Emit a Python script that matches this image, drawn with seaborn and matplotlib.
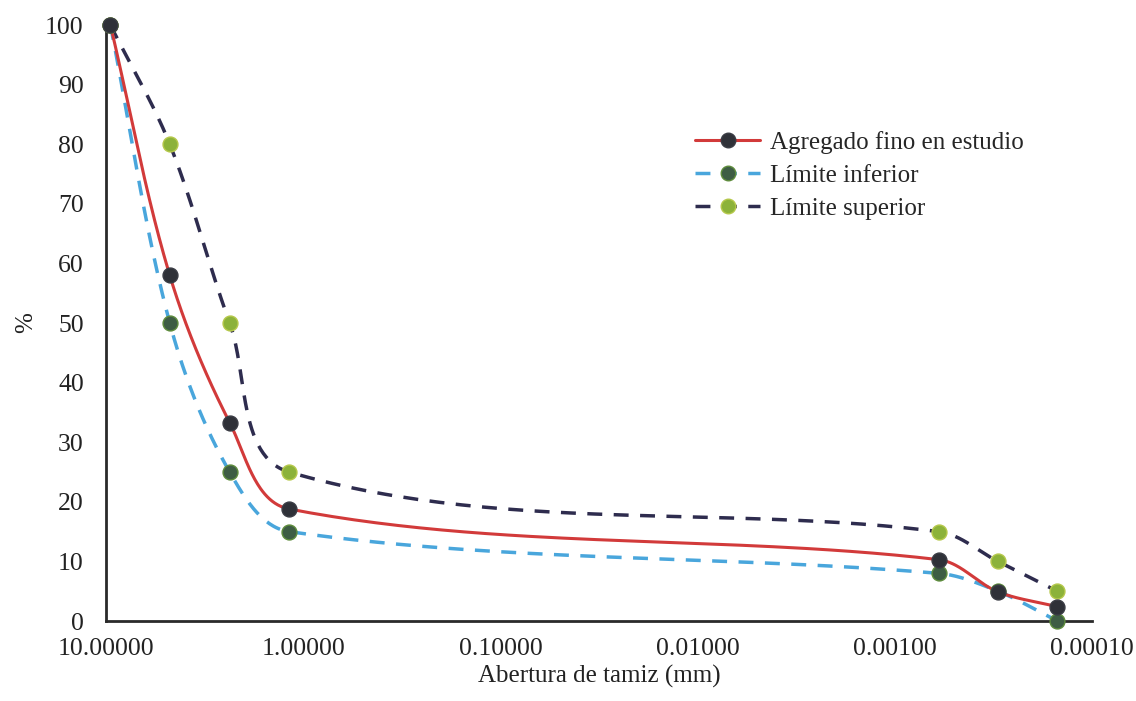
import numpy as np
import matplotlib
matplotlib.use("Agg")
import matplotlib.pyplot as plt
from matplotlib.lines import Line2D
import seaborn as sns

# ---- data ----
abertura = [9.5, 4.75, 2.36, 1.18, 0.0006, 0.0003, 0.00015]
agregado = [100, 58, 33.3, 18.8, 10.3, 4.9, 2.4]
lim_inf = [100, 50, 25, 15, 8, 5, 0]
lim_sup = [100, 80, 50, 25, 15, 10, 5]
xticks = [10, 1, 0.1, 0.01, 0.001, 0.0001]
xtick_labels = ["10.00000", "1.00000", "0.10000", "0.01000", "0.00100", "0.00010"]
yticks = list(range(0, 101, 10))

sns.set_theme(style="white")
plt.rcParams['font.family'] = ['Liberation Serif', 'DejaVu Serif']

fig = plt.figure(figsize=(11.36, 7.01), dpi=100)
ax = fig.add_axes([106/1136, 80/701, (1092-106)/1136, (621-25)/701])

PXD, PXY = 197.6, 5.96  # pixels per decade / per y unit (for smoothing shape)


def smooth(xs, ys, n=60):
    # Excel-like smoothing: Bezier segments, tangent parallel to neighbours,
    # handle length scaled to the segment length (in screen-like coordinates)
    P = np.column_stack([-np.log10(np.asarray(xs, float)) * PXD,
                         np.asarray(ys, float) * PXY])
    N = len(P)
    T = np.zeros_like(P)
    for i in range(N):
        a = P[max(i - 1, 0)]
        b = P[min(i + 1, N - 1)]
        d = b - a
        T[i] = d / np.linalg.norm(d)
    out = []
    t = np.linspace(0, 1, n)[:, None]
    for i in range(N - 1):
        L = np.linalg.norm(P[i + 1] - P[i])
        c1 = P[i] + T[i] * L / 3
        c2 = P[i + 1] - T[i + 1] * L / 3
        seg = ((1 - t)**3 * P[i] + 3*(1 - t)**2*t*c1 + 3*(1 - t)*t**2*c2
               + t**3 * P[i + 1])
        out.append(seg)
    S = np.vstack(out)
    return 10 ** (-S[:, 0] / PXD), S[:, 1] / PXY


dash = (0, (4.3, 3.3))
series = [
    ("Límite superior", lim_sup, "#2e2c4e", dash, 2.5, "#8cb23a", "#b5c84a"),
    ("Límite inferior", lim_inf, "#49a6dc", dash, 2.5, "#3e5d44", "#5e8c3c"),
    ("Agregado fino en estudio", agregado, "#d23a3a", "solid", 2.2, "#2f3138", "#3a3c44"),
]

handles = {}
for name, ys, lc, ls, lw, mfc, mec in series:
    sx, sy = smooth(abertura, ys)
    ax.plot(sx, sy, color=lc, lw=lw, linestyle=ls, clip_on=False, zorder=2,
            dash_capstyle="butt")
    sns.scatterplot(x=abertura, y=ys, ax=ax, s=115, color=mfc, edgecolor=mec,
                    linewidth=1.0, zorder=4, clip_on=False, legend=False)
    handles[name] = Line2D([0], [0], color=lc, lw=lw, linestyle=ls, marker="o",
                           markersize=10.5, markerfacecolor=mfc, markeredgecolor=mec)

ax.set_xscale("log")
ax.set_xlim(10, 0.0001)
ax.set_ylim(0, 100)
ax.set_xticks(xticks)
ax.set_xticklabels(xtick_labels)
ax.set_yticks(yticks)
ax.minorticks_off()
ax.tick_params(axis="both", labelsize=18.5, length=0, colors="#222222")
ax.tick_params(axis="y", pad=16)
ax.tick_params(axis="x", pad=12)
for s in ["top", "right"]:
    ax.spines[s].set_visible(False)
for s in ["left", "bottom"]:
    ax.spines[s].set_color("#2a2a2a")
    ax.spines[s].set_linewidth(2)
ax.set_xlabel("Abertura de tamiz (mm)", fontsize=18, color="#222222", labelpad=4)
ax.set_ylabel("%", fontsize=18, color="#222222", labelpad=6)

order = ["Agregado fino en estudio", "Límite inferior", "Límite superior"]
ax.legend([handles[k] for k in order], order, loc="upper left",
          bbox_to_anchor=(0.575, 0.86), frameon=False, fontsize=18,
          handlelength=2.6, handletextpad=0.4, labelspacing=0.42)

fig.savefig("out.png", dpi=100)
